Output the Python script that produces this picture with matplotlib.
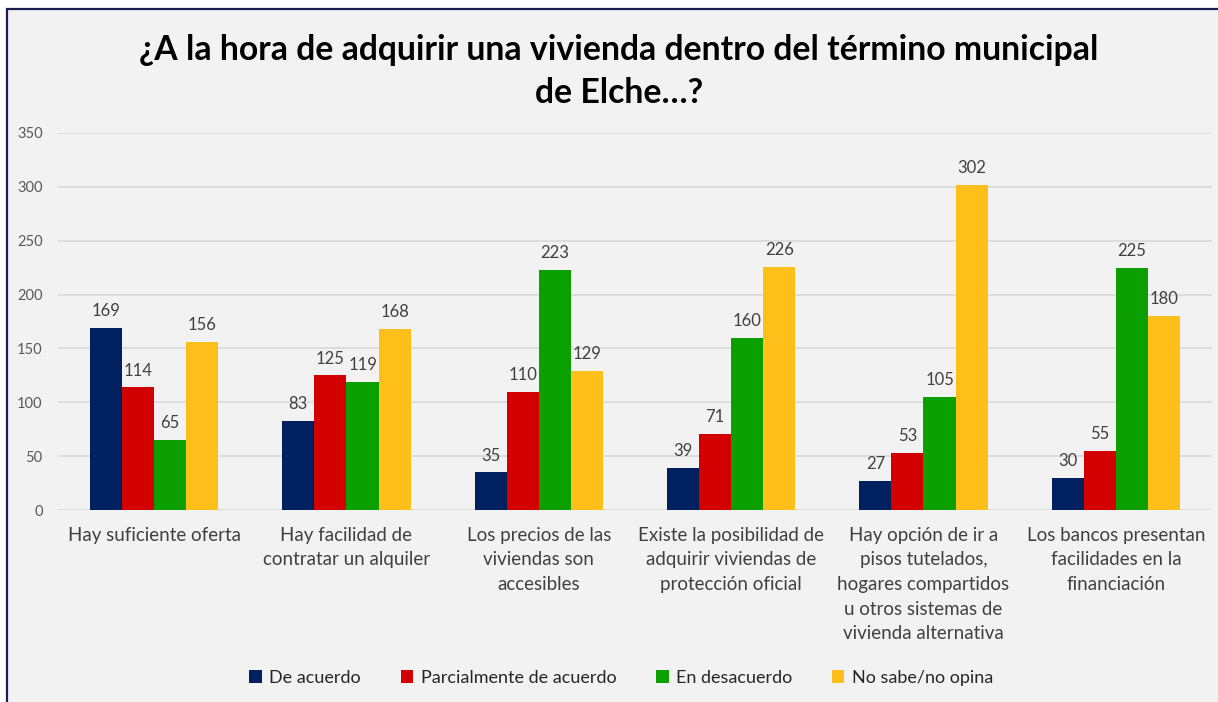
import matplotlib
matplotlib.use("Agg")
import matplotlib.pyplot as plt
import numpy as np
from matplotlib.patches import Rectangle

plt.rcParams["font.family"] = ["Lato", "DejaVu Sans"]

categories = [
    "Hay suficiente oferta",
    "Hay facilidad de\ncontratar un alquiler",
    "Los precios de las\nviviendas son\naccesibles",
    "Existe la posibilidad de\nadquirir viviendas de\nprotección oficial",
    "Hay opción de ir a\npisos tutelados,\nhogares compartidos\nu otros sistemas de\nvivienda alternativa",
    "Los bancos presentan\nfacilidades en la\nfinanciación",
]
series_names = ["De acuerdo", "Parcialmente de acuerdo", "En desacuerdo", "No sabe/no opina"]
de_acuerdo = [169, 83, 35, 39, 27, 30]
parcialmente = [114, 125, 110, 71, 53, 55]
desacuerdo = [65, 119, 223, 160, 105, 225]
no_sabe = [156, 168, 129, 226, 302, 180]
colors = ["#002060", "#D20000", "#0BA000", "#FFBF1A"]

W, H = 1218, 702
fig = plt.figure(figsize=(W / 100, H / 100), dpi=100, facecolor="white")

# chart area background with navy border (top and left visible)
bg = Rectangle((7 / W, -0.05), 1.05, 1 - 9 / H + 0.05, transform=fig.transFigure,
               facecolor="#F2F2F2", edgecolor="#1C1C54", linewidth=1.6, zorder=-5)
fig.patches.append(bg)

ax = fig.add_axes([58 / W, (H - 510) / H, (1212 - 58) / W, (510 - 133) / H])
ax.set_facecolor("none")

x = np.arange(len(categories))
bw = 0.167
values = [de_acuerdo, parcialmente, desacuerdo, no_sabe]
for i, (vals, name, col) in enumerate(zip(values, series_names, colors)):
    pos = x + (i - 1.5) * bw
    bars = ax.bar(pos, vals, width=bw, color=col, label=name, zorder=3)
    for b, v in zip(bars, vals):
        ax.text(b.get_x() + b.get_width() / 2, v + 8, str(v), ha="center", va="bottom",
                fontsize=12, color="#404040")

ax.set_ylim(0, 350)
ax.set_xlim(-0.5, len(categories) - 0.5)
ax.set_yticks(np.arange(0, 351, 50))
ax.yaxis.grid(True, color="#D9D9D9", linewidth=1.2, zorder=0)
ax.set_axisbelow(True)
for s in ax.spines.values():
    s.set_visible(False)
ax.tick_params(axis="y", length=0, labelsize=10.5, labelcolor="#595959", pad=11)
ax.tick_params(axis="x", length=0, pad=12)
ax.set_xticks(x)
ax.set_xticklabels(categories, fontsize=13.5, color="#404040", linespacing=1.55, va="top")

fig.text(0.508, 1 - 71.5 / H, "¿A la hora de adquirir una vivienda dentro del término municipal\nde Elche…?",
         ha="center", va="center", fontsize=24.3, fontweight="bold", color="black",
         linespacing=1.45)

fig.legend(loc="center", bbox_to_anchor=(0.51, 1 - 678 / H), ncol=4, frameon=False,
           fontsize=13, handlelength=0.7, handleheight=0.7, handletextpad=0.4,
           columnspacing=2.2, labelcolor="#262626")

fig.savefig("out.png", dpi=100, facecolor="white")
